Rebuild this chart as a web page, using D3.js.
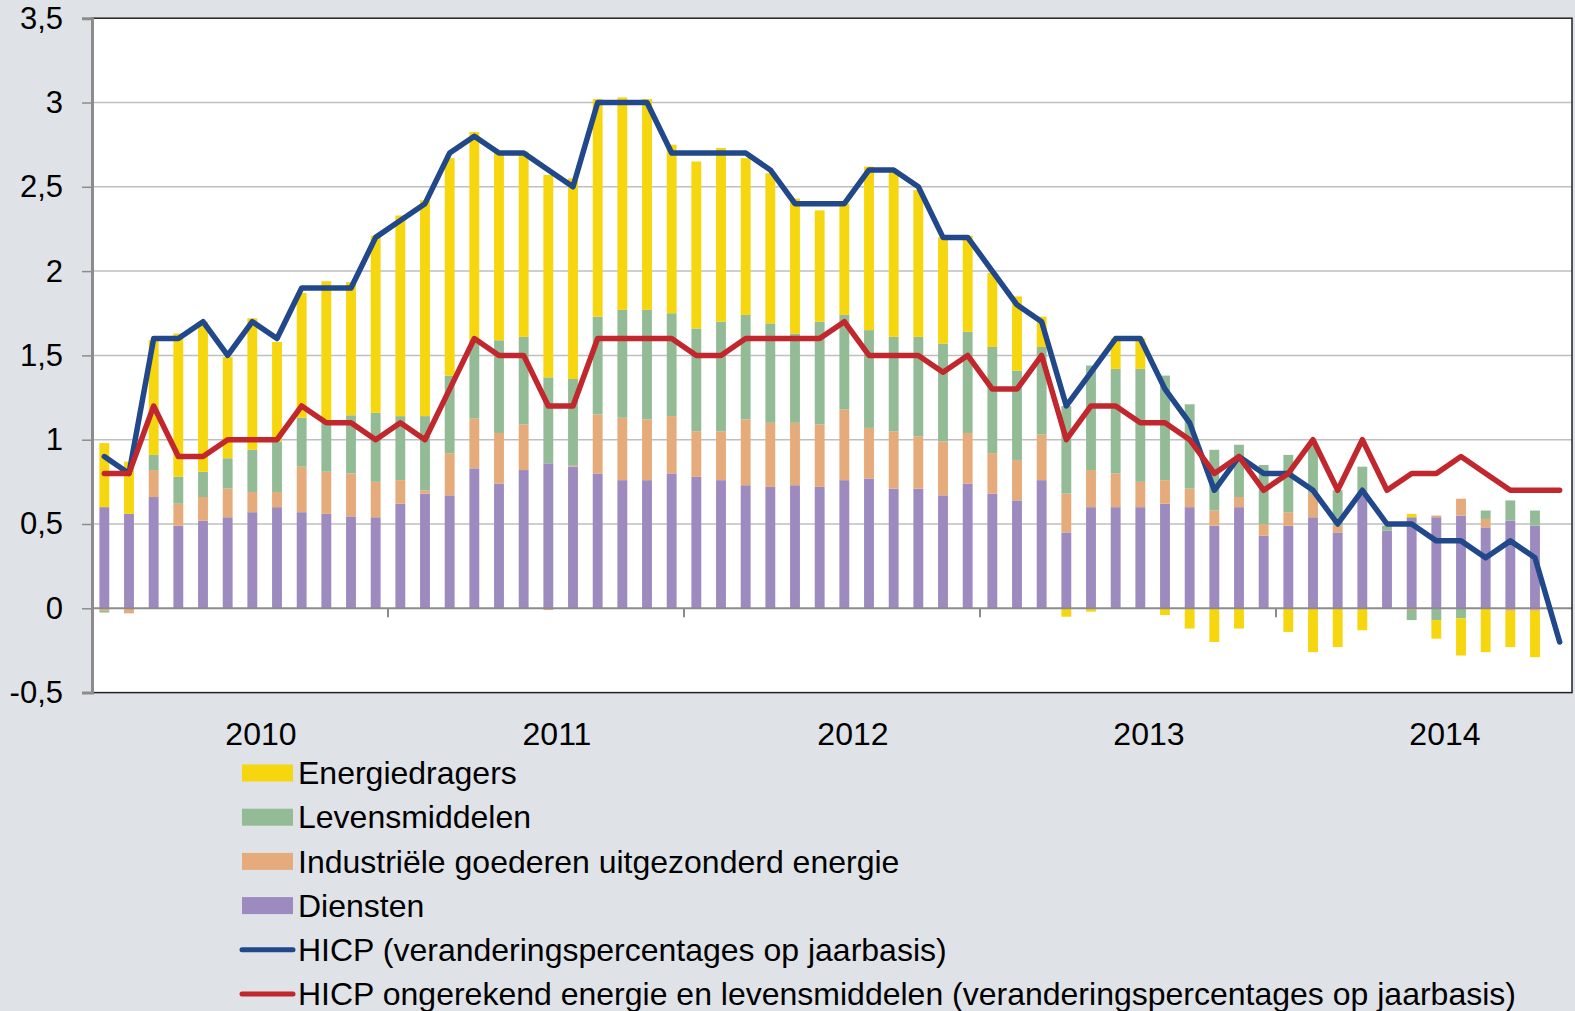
<!DOCTYPE html>
<meta charset="utf-8">
<title>HICP</title>
<style>
body {
    margin: 0;
    background: #dfe2e7;
}
svg text {
    font-family: "Liberation Sans", Arial, sans-serif;
    fill: #000;
}
</style>
<body>
<svg width="1575" height="1011" id="chart"></svg>
<script src="https://d3js.org/d3.v7.min.js"></script>
<script>
// jaren op de x-as, 12 maanden per jaar
var years = [2010, 2011, 2012, 2013, 2014];
var months = [];
years.forEach(function(y) { for (var m = 1; m <= 12; m++) months.push(y + "-" + m); });

// bijdragen (procentpunten)
var diensten = [0.60,0.56,0.66,0.49,0.52,0.54,0.57,0.60,0.57,0.56,0.545,0.54,
    0.62,0.68,0.67,0.83,0.74,0.82,0.86,0.84,0.80,0.76,0.76,0.80,
    0.78,0.76,0.73,0.72,0.73,0.72,0.76,0.77,0.71,0.71,0.67,0.74,
    0.68,0.64,0.76,0.45,0.60,0.60,0.60,0.62,0.60,0.49,0.60,0.43,
    0.49,0.54,0.45,0.67,0.46,0.54,0.54,0.55,0.48,0.52,0.49,null];
var industrie = [-0.015,-0.03,0.16,0.13,0.14,0.17,0.12,0.09,0.27,0.25,0.255,0.21,
    0.14,0.02,0.25,0.295,0.30,0.27,-0.01,0.005,0.35,0.37,0.36,0.34,
    0.27,0.29,0.39,0.38,0.37,0.37,0.42,0.30,0.34,0.31,0.32,0.30,
    0.24,0.24,0.27,0.23,0.22,0.20,0.15,0.14,0.11,0.09,0.06,0.07,
    0.08,0.14,0.04,0,0,-0.01,0.01,0.10,0.05,-0.015,-0.015,null];
var levensmiddelen = [-0.01,0,0.09,0.16,0.15,0.18,0.25,0.30,0.29,0.29,0.345,0.41,
    0.38,0.44,0.46,0.47,0.55,0.52,0.51,0.515,0.58,0.64,0.65,0.61,
    0.61,0.65,0.62,0.59,0.53,0.61,0.56,0.58,0.56,0.59,0.58,0.60,
    0.63,0.53,0.52,0.52,0.62,0.62,0.67,0.62,0.50,0.36,0.31,0.35,
    0.34,0.29,0.21,0.17,0.03,-0.06,-0.07,-0.06,0.05,0.12,0.09,null];
var energie = [0.38,0.31,0.68,0.85,0.89,0.60,0.78,0.59,0.74,0.84,0.79,1.05,
    1.19,1.28,1.29,1.23,1.11,1.10,1.20,1.19,1.29,1.26,1.25,1.00,
    0.99,1.03,0.93,0.89,0.80,0.66,0.66,0.97,0.99,0.87,0.63,0.57,
    0.44,0.44,0.18,-0.05,-0.02,0.18,0.18,-0.04,-0.12,-0.20,-0.12,0,
    -0.14,-0.26,-0.23,-0.13,0,0.02,-0.11,-0.22,-0.26,-0.215,-0.275,null];

// jaar-op-jaar veranderingen
var hicp = [0.9,0.8,1.6,1.6,1.7,1.5,1.7,1.6,1.9,1.9,1.9,2.2,
    2.3,2.4,2.7,2.8,2.7,2.7,2.6,2.5,3.0,3.0,3.0,2.7,
    2.7,2.7,2.7,2.6,2.4,2.4,2.4,2.6,2.6,2.5,2.2,2.2,
    2.0,1.8,1.7,1.2,1.4,1.6,1.6,1.3,1.1,0.7,0.9,0.8,
    0.8,0.7,0.5,0.7,0.5,0.5,0.4,0.4,0.3,0.4,0.3,-0.2];
var kern = [0.8,0.8,1.2,0.9,0.9,1.0,1.0,1.0,1.2,1.1,1.1,1.0,
    1.1,1.0,1.3,1.6,1.5,1.5,1.2,1.2,1.6,1.6,1.6,1.6,
    1.5,1.5,1.6,1.6,1.6,1.6,1.7,1.5,1.5,1.5,1.4,1.5,
    1.3,1.3,1.5,1.0,1.2,1.2,1.1,1.1,1.0,0.8,0.9,0.7,
    0.8,1.0,0.7,1.0,0.7,0.8,0.8,0.9,0.8,0.7,0.7,0.7];

var yTicks = [-0.5, 0, 0.5, 1, 1.5, 2, 2.5, 3, 3.5];

var series = [
    {key: "diensten", name: "Diensten", color: "#9d8abf", values: diensten},
    {key: "industrie", name: "Industriële goederen uitgezonderd energie", color: "#e6ab7a", values: industrie},
    {key: "levensmiddelen", name: "Levensmiddelen", color: "#93bc96", values: levensmiddelen},
    {key: "energie", name: "Energiedragers", color: "#f6d60e", values: energie}
];
var lines = [
    {name: "HICP (veranderingspercentages op jaarbasis)", color: "#21488a", values: hicp},
    {name: "HICP ongerekend energie en levensmiddelen (veranderingspercentages op jaarbasis)", color: "#c1272d", values: kern}
];

var svg = d3.select("#chart");
var plotLeft = 92, plotRight = 1572, plotTop = 18.2, plotBottom = 692.6;

var x = d3.scaleBand()
    .domain(d3.range(months.length))
    .range([plotLeft, plotRight])
    .paddingInner(0.6)
    .paddingOuter(0.3);

var y = d3.scaleLinear()
    .domain([-0.5, 3.5])
    .range([plotBottom, plotTop]);

var fmt = function(d) { return String(d).replace(".", ","); };

// plotvlak
svg.append("rect")
    .attr("x", plotLeft).attr("y", plotTop)
    .attr("width", plotRight - plotLeft).attr("height", plotBottom - plotTop)
    .attr("fill", "#fff");

svg.append("g")
    .selectAll("line")
    .data(yTicks.filter(function(d) { return d !== 0 && d !== -0.5 && d !== 3.5; }))
    .enter().append("line")
    .attr("x1", plotLeft).attr("x2", plotRight)
    .attr("y1", function(d) { return y(d); })
    .attr("y2", function(d) { return y(d); })
    .attr("stroke", "#bfbfbf")
    .attr("stroke-width", 1.5);

// staven
var rows = months.map(function(m, i) {
    var r = {};
    series.forEach(function(s) { r[s.key] = s.values[i] || 0; });
    return r;
});
var stack = d3.stack()
    .keys(series.map(function(s) { return s.key; }))
    .offset(d3.stackOffsetDiverging);

svg.append("g")
    .selectAll("g")
    .data(stack(rows))
    .enter().append("g")
    .attr("fill", function(d, i) { return series[i].color; })
    .selectAll("rect")
    .data(function(d) { return d; })
    .enter().append("rect")
    .attr("x", function(d, i) { return x(i); })
    .attr("width", x.bandwidth())
    .attr("y", function(d) { return y(Math.max(d[0], d[1])); })
    .attr("height", function(d) { return Math.abs(y(d[0]) - y(d[1])); });

// nullijn en x-as ticks
svg.append("line")
    .attr("x1", plotLeft).attr("x2", plotRight)
    .attr("y1", y(0)).attr("y2", y(0))
    .attr("stroke", "#8c8c8c").attr("stroke-width", 2);

var step = x.step();
svg.append("g")
    .selectAll("line")
    .data(years.slice(1))
    .enter().append("line")
    .attr("x1", function(d, i) { return x((i + 1) * 12) - step * 0.3; })
    .attr("x2", function(d, i) { return x((i + 1) * 12) - step * 0.3; })
    .attr("y1", y(0)).attr("y2", y(0) + 9)
    .attr("stroke", "#8c8c8c").attr("stroke-width", 2);

// lijnen
var line = d3.line()
    .x(function(d, i) { return x(i) + x.bandwidth() / 2; })
    .y(function(d) { return y(d); });

svg.append("g")
    .selectAll("path")
    .data(lines)
    .enter().append("path")
    .attr("d", function(d) { return line(d.values); })
    .attr("fill", "none")
    .attr("stroke", function(d) { return d.color; })
    .attr("stroke-width", 5.5)
    .attr("stroke-linejoin", "round")
    .attr("stroke-linecap", "round");

// kader
svg.append("rect")
    .attr("x", plotLeft).attr("y", plotTop)
    .attr("width", plotRight - plotLeft).attr("height", plotBottom - plotTop)
    .attr("fill", "none")
    .attr("stroke", "#222").attr("stroke-width", 1.5);

// y-as
var yAxis = svg.append("g")
    .attr("transform", "translate(" + plotLeft + ",0)")
    .call(d3.axisLeft(y).tickValues(yTicks).tickSize(10).tickPadding(19).tickFormat(fmt));
yAxis.select(".domain").attr("stroke", "#8c8c8c").attr("stroke-width", 3);
yAxis.selectAll(".tick line").attr("stroke", "#8c8c8c").attr("stroke-width", 1.5);
yAxis.selectAll("text")
    .style("font-family", "'Liberation Sans', Arial, sans-serif")
    .style("font-size", "31px")
    .attr("fill", "#000");

// jaartallen
svg.append("g")
    .selectAll("text")
    .data(years)
    .enter().append("text")
    .attr("x", function(d, i) { return x(i * 12 + 6) + step * 0.55; })
    .attr("y", 745)
    .attr("text-anchor", "middle")
    .style("font-size", "32px")
    .text(function(d) { return d; });

// legende
var legendItems = [series[3], series[2], series[1], series[0]].map(function(s) {
    return {name: s.name, color: s.color, type: "rect"};
}).concat(lines.map(function(l) {
    return {name: l.name, color: l.color, type: "line"};
}));

var legend = svg.append("g")
    .selectAll("g")
    .data(legendItems)
    .enter().append("g")
    .attr("transform", function(d, i) { return "translate(242," + (773 + i * 44.2) + ")"; });

legend.filter(function(d) { return d.type === "rect"; })
    .append("rect")
    .attr("x", 0).attr("y", -8.5)
    .attr("width", 51).attr("height", 17)
    .attr("fill", function(d) { return d.color; });

legend.filter(function(d) { return d.type === "line"; })
    .append("line")
    .attr("x1", 0).attr("x2", 51)
    .attr("y1", 0).attr("y2", 0)
    .attr("stroke", function(d) { return d.color; })
    .attr("stroke-width", 5)
    .attr("stroke-linecap", "round");

legend.append("text")
    .attr("x", 56)
    .attr("dy", "0.35em")
    .style("font-size", "32px")
    .text(function(d) { return d.name; });
</script>
</body>
